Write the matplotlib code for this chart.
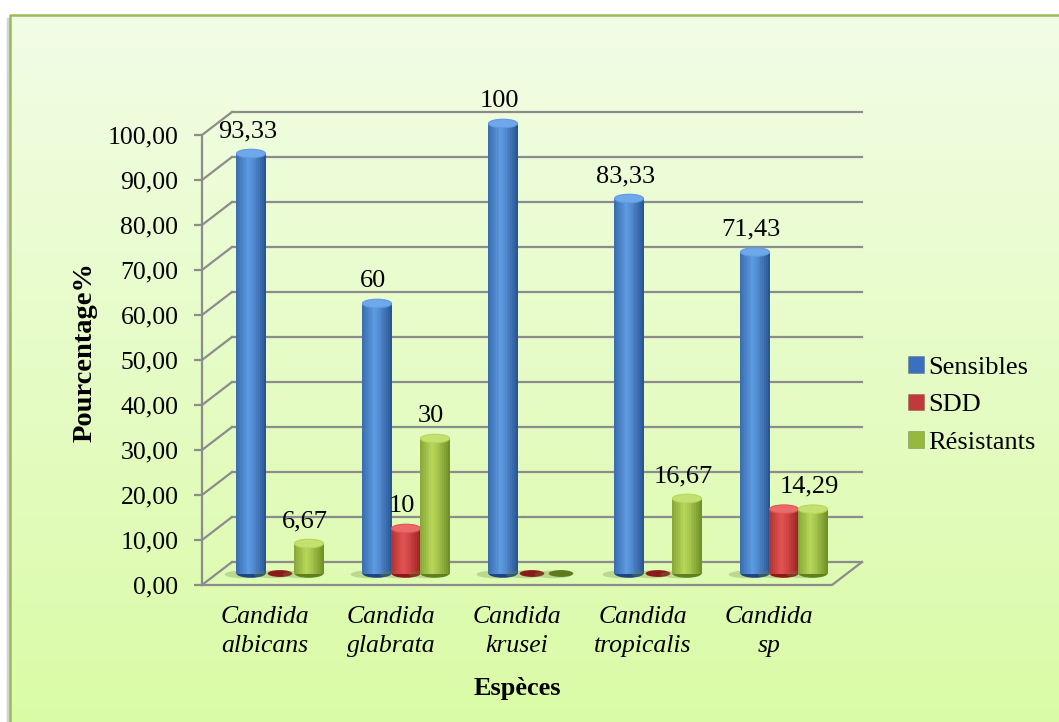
import numpy as np
import matplotlib.pyplot as plt
from matplotlib.patches import Ellipse, Patch
from matplotlib.colors import to_rgb

plt.rcParams['font.family'] = ['Liberation Serif', 'DejaVu Serif']

# data
species = ['Candida\nalbicans', 'Candida\nglabrata', 'Candida\nkrusei',
           'Candida\ntropicalis', 'Candida\nsp']
sensibles = [93.33, 60, 100, 83.33, 71.43]
sdd = [0, 10, 0, 0, 14.29]
resistants = [6.67, 30, 0, 16.67, 14.29]
series_names = ['Sensibles', 'SDD', 'Résistants']
yticks = list(range(0, 101, 10))

# light / dark tones for the cylinders, and the colour of an empty (zero) disc
light = ['#5E9BE2', '#E35252', '#B7D65A']
dark = ['#1C4683', '#8A1818', '#61801C']
tops = ['#6FA8EA', '#EA6A6A', '#C4E070']
flat = ['#2B4F86', '#8B1A1A', '#5E7A1C']
legend_cols = ['#3A70BE', '#C0393B', '#97B83F']

W = 0.23           # column width (category units)
DX = 30 / 126      # depth of the 3d box, x (category units)
DY = 23 / 4.5      # depth of the 3d box, y (percent units)
EH = 1.9           # height of the elliptic caps
GRID = '#8C8C8C'

fig = plt.figure(figsize=(10.59, 7.22), dpi=100)

# panel background with a soft vertical gradient and green frame
bg = fig.add_axes([0, 0, 1, 1], zorder=-10)
bg.set_xlim(0, 1059)
bg.set_ylim(722, 0)
bg.axis('off')
grad = np.linspace(0, 1, 256)[:, None]
c_top, c_bot = np.array(to_rgb('#F2FDE6')), np.array(to_rgb('#DAFBA6'))
img = c_top[None, None, :] * (1 - grad[..., None]) + c_bot[None, None, :] * grad[..., None]
bg.imshow(img, extent=(10, 1059, 722, 15), aspect='auto', interpolation='bicubic')
bg.plot([7.5, 7.5], [19, 722], color='#B8B8B8', lw=2.5, alpha=0.6)
bg.plot([10, 10, 1059], [722, 15, 15], color='#9BBB59', lw=1.8)

ax = fig.add_axes([202 / 1059, 137 / 722, 630 / 1059, 450 / 722])
ax.set_xlim(-0.5, 4.5)
ax.set_ylim(0, 100)
ax.patch.set_visible(False)
for s in ['top', 'right', 'bottom']:
    ax.spines[s].set_visible(False)
ax.spines['left'].set_color(GRID)
ax.spines['left'].set_linewidth(1.6)

# back wall grid, side wall diagonals and floor
for t in yticks:
    ax.plot([-0.5 + DX, 4.5 + DX], [t + DY, t + DY], color=GRID, lw=1.6,
            clip_on=False, zorder=0.5)
    ax.plot([-0.5, -0.5 + DX], [t, t + DY], color=GRID, lw=1.6,
            clip_on=False, zorder=0.5)
ax.plot([-0.5, 4.5, 4.5 + DX], [0, 0, DY], color=GRID, lw=1.6,
        clip_on=False, zorder=0.5)


def cylinder(x, h, j, z):
    base = DY / 2
    # soft shadow on the floor, thrown to the left
    ax.add_patch(Ellipse((x - 0.06, base - 0.2), W * 1.3, EH * 0.9,
                         color='#6E8A3C', alpha=0.3, lw=0, zorder=z - 0.5,
                         clip_on=False))
    if h <= 0:
        ax.add_patch(Ellipse((x, base), W * 0.85, EH * 0.8,
                             color=flat[j], lw=0, zorder=z, clip_on=False))
        return
    n = 16
    edges = np.linspace(x - W / 2, x + W / 2, n + 1)
    centers = (edges[:-1] + edges[1:]) / 2
    t = (centers - (x - W / 2)) / W
    shade = np.clip(1 - np.abs(t - 0.42) / 0.6, 0, 1) ** 0.7
    lo, hi = np.array(to_rgb(dark[j])), np.array(to_rgb(light[j]))
    cols = [lo + (hi - lo) * s for s in shade]
    ax.add_patch(Ellipse((x, base), W, EH, color=dark[j], lw=0, zorder=z,
                         clip_on=False))
    ax.bar(centers, h, width=W / n * 1.08, bottom=base, color=cols,
           linewidth=0, zorder=z, clip_on=False)
    ax.add_patch(Ellipse((x, base + h), W, EH, facecolor=tops[j],
                         edgecolor=light[j], lw=0.8, zorder=z + 0.1,
                         clip_on=False))


def fmt(v):
    return f'{v:g}'.replace('.', ',')


series = [sensibles, sdd, resistants]
for i in range(len(species)):
    for j, vals in enumerate(series):
        x = i + (j - 1) * W + DX / 2
        cylinder(x, vals[i], j, 2 + j)

# value labels (the two equal 14,29 columns of C. sp share one label)
for i in range(len(species)):
    for j, vals in enumerate(series):
        v = vals[i]
        if v <= 0 or (j == 1 and v == resistants[i]):
            continue
        x = i + (j - 1) * W + DX / 2 - 0.03
        ax.text(x, v + DY / 2 + 5.0, fmt(v), ha='center', va='center',
                fontsize=19, zorder=10)

ax.set_yticks(yticks)
ax.set_yticklabels([f'{t:.2f}'.replace('.', ',') for t in yticks])
ax.tick_params(axis='y', length=6, width=1.6, color=GRID, labelsize=18.5, pad=11)
ax.set_xticks(range(len(species)))
ax.set_xticklabels(species, fontsize=18.5, style='italic', linespacing=1.4)
ax.tick_params(axis='x', length=0, pad=15)

ax.set_ylabel('Pourcentage%', fontsize=20.5, fontweight='bold')
ax.yaxis.set_label_coords(-0.165, 0.518)
ax.set_xlabel('Espèces', fontsize=19, fontweight='bold')
ax.xaxis.set_label_coords(0.5, -0.205)

handles = [Patch(facecolor=c, edgecolor='#00000040', lw=0.5) for c in legend_cols]
fig.legend(handles, series_names, loc='center left',
           bbox_to_anchor=(908 / 1059, 1 - 405 / 722), frameon=False,
           fontsize=19, handlelength=0.6, handleheight=0.6,
           handletextpad=0.15, labelspacing=0.55, borderpad=0,
           borderaxespad=0)

fig.savefig('out.png', dpi=100)
